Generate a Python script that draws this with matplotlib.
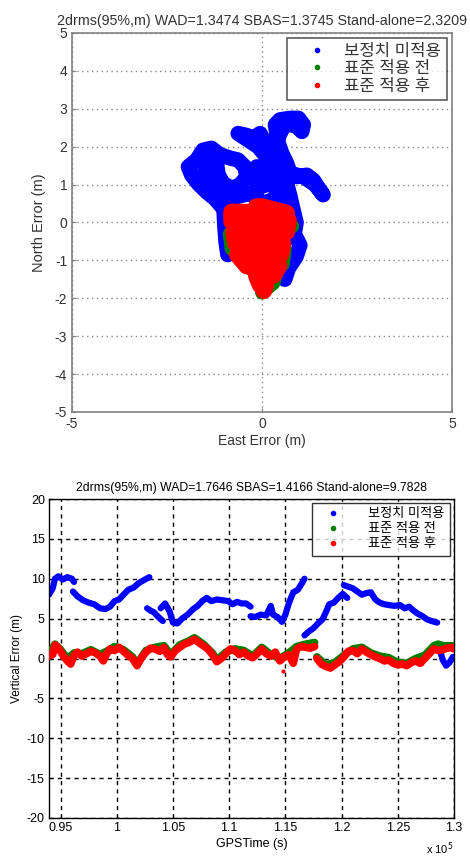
import numpy as np
import matplotlib
matplotlib.use("Agg")
import matplotlib.pyplot as plt
from matplotlib.lines import Line2D

plt.rcParams['font.family'] = ['Liberation Sans', 'Noto Sans CJK KR', 'DejaVu Sans']
plt.rcParams['axes.unicode_minus'] = False

# ---------------- data ----------------
series_names = ['보정치 미적용', '표준 적용 전', '표준 적용 후']
series_colors = ['#0000FF', '#008000', '#FF0000']

title_top = '2drms(95%,m) WAD=1.3474 SBAS=1.3745 Stand-alone=2.3209'
title_bottom = '2drms(95%,m) WAD=1.7646 SBAS=1.4166 Stand-alone=9.7828'

# horizontal scatter (east, north) in metres
blue_east = [0.6, 0.7, 0.9, 1.0, 0.85, 0.9, 0.82, 0.74, 0.65, 0.74, 0.91, 1.18, 1.35, 1.49, 1.61,
             1.4, 1.1, 0.74, 0.65, 0.52, 0.43, 0.39, 0.35, 0.47, 0.74, 0.96, 1.09, 1.05, 0.9, 0.6,
             0.45, 0.3, 0.17, 0.08, -0.05, -0.23, -0.41, -0.63, -0.4, -0.1, 0.26, 0.45, 0.5, 0.12,
             -0.14, -0.23, -0.05, 0.21, 0.39, 0.5, 0.26, 0.03, -0.32, -0.67, -0.98, -1.06, -1.24,
             -1.46, -1.68, -1.85, -1.94, -1.72, -1.55, -1.33, -1.11, -0.84, -0.63, -0.45, -0.4,
             -0.58, -0.8, -1.02, -1.15, -1.19, -1.42, -1.5, -1.3, -1.1, -1.0, -0.98, -0.95, -0.9]
blue_north = [-1.5, -1.2, -0.9, -0.6, -0.3, 0.0, 0.33, 0.68, 1.03, 1.3, 1.21, 1.25, 1.12, 0.9, 0.73,
              1.0, 1.2, 1.3, 1.56, 1.83, 2.09, 2.35, 2.58, 2.71, 2.75, 2.75, 2.58, 2.4, 2.55, 2.6,
              2.3, 2.0, 1.83, 2.09, 2.35, 2.22, 2.3, 2.35, 2.2, 2.0, 1.56, 1.4, 1.1, 1.35,
              1.47, 1.21, 0.94, 1.03, 0.86, 0.6, 0.59, 0.51, 0.77, 0.68, 0.59, 0.42, 0.63,
              0.81, 1.03, 1.25, 1.47, 1.65, 1.91, 1.96, 1.79, 1.7, 1.65, 1.47, 1.21,
              0.99, 0.9, 1.03, 1.25, 1.52, 1.6, 1.3, 1.0, 0.7, 0.3, -0.1, -0.5, -0.85]

green_east = [-0.2, 0.1, 0.6, 0.8, 0.4, -0.3, -0.85, -0.8, -0.1, 0.6, 0.55, 0.0, -0.6, -0.2, 0.4, 0.3, 0.0]
green_north = [0.35, 0.3, 0.15, -0.1, -0.3, -0.2, -0.3, -0.7, -0.6, -0.7, -1.1, -1.0, -0.95, -1.3, -1.25, -1.6, -1.85]

red_east = [-0.15, 0.0, 0.65, -0.8, -0.8, 0.7, 0.65, -0.75, -0.7, 0.55, 0.5, -0.65, -0.4, 0.45,
            0.3, -0.15, -0.05, 0.1, 0.05]
red_north = [0.42, 0.42, 0.25, 0.28, 0.02, 0.05, -0.25, -0.25, -0.55, -0.55, -0.85, -0.85, -1.15,
             -1.15, -1.4, -1.4, -1.65, -1.65, -1.8]

# vertical error time series (GPS time in s, error in m); nan = gap
nan = np.nan
blue_t = [93970, 94300, 94500, 94800, 95200, 95600, 96000, 96200, nan,
          96100, 96500, 97000, 97500, 98000, 98500, 99000, 99400, 99800, 100200, 100600, 101000,
          101500, 102000, 102500, 102900, nan,
          102700, 103000, 103300, 103700, 104100, nan,
          103900, 104300, 104700, 105000, 105400, 105800, 106300, 106800, 107200, 107600, 108000,
          108400, 108900, 109400, 109900, 110300, 110700, 111100, 111500, 111900, nan,
          111900, 112300, 112800, 113300, 113700, 113900, 114300, 114700, 115000, 115300, 115700,
          116100, 116500, 116700, nan,
          116700, 117100, 117500, 117900, 118300, 118600, 118900, 119300, 119700, 120100, 120500, nan,
          120200, 120600, 121000, 121400, 121800, 122200, 122600, 123000, 123400, 123800, 124200,
          124700, 125200, 125600, 126000, 126400, 126800, 127200, 127600, 128000, 128500, nan,
          128800, 129000, 129300, 129600, 129900]
blue_v = [8.0, 8.8, 10.0, 10.3, 9.9, 10.2, 10.0, 9.6, nan,
          8.4, 7.8, 7.3, 7.0, 6.8, 6.3, 6.2, 6.5, 7.2, 7.4, 8.0, 8.6,
          8.9, 9.5, 9.9, 10.2, nan,
          6.3, 6.0, 5.8, 5.2, 4.7, nan,
          6.3, 6.9, 5.9, 4.5, 4.4, 5.0, 5.5, 6.2, 6.6, 7.2, 7.6,
          7.2, 7.4, 7.3, 7.2, 6.8, 7.1, 6.9, 6.9, 6.5, nan,
          5.3, 5.2, 5.5, 5.4, 6.6, 5.5, 5.2, 4.6, 5.5, 6.9, 8.3,
          8.6, 9.5, 10.0, nan,
          2.9, 3.4, 3.8, 4.4, 4.9, 5.8, 6.8, 7.0, 7.6, 8.1, 7.6, nan,
          9.2, 9.0, 8.8, 8.4, 8.0, 8.2, 8.3, 7.4, 7.0, 6.8, 6.7,
          6.6, 6.7, 6.3, 6.5, 6.0, 5.6, 5.3, 4.9, 4.7, 4.5, nan,
          0.8, -0.2, -0.9, -0.5, 0.2]

red_t = [93970, 94300, 94500, 94700, 95000, 95300, 95600, 95900, 96200, 96500, 96900, 97300, 97700,
         98100, 98500, 98800, 99100, 99400, 99800, 100200, 100600, 101000, 101400, 101800, 102200,
         102600, 103000, 103400, 103800, 104200, 104500, 104800, 105200, 105600, 106000, 106400,
         106900, 107300, 107700, 108100, 108500, 108900, 109300, 109700, 110100, 110500, 110900,
         111300, 111700, 112100, 112500, 112900, 113300, 113700, 114100, 114500, 114900, 115300,
         115700, 116000, 116400, 116800, 117200, 117600, nan,
         117800, 118200, 118600, 119000, 119400, 119800, 120200, 120600, 121000, 121400, 121800,
         122200, 122600, 123000, 123400, 123800, 124200, 124600, 125000, 125400, 125800, 126200,
         126600, 127000, 127400, 127800, 128200, 128600, 129000, 129400, 129800, 130000]
red_v = [0.3, 0.5, 1.7, 1.5, 0.9, 0.2, -0.3, -0.7, 0.4, 0.8, 0.3, 0.6, 0.9,
         0.7, 0.3, -0.3, 0.6, 1.2, 1.0, 1.4, 0.9, 0.4, 0.0, -0.9, 0.1,
         0.8, 1.3, 1.2, 0.9, 1.4, 0.5, 0.2, 1.0, 1.4, 1.8, 2.0,
         2.4, 2.0, 1.6, 1.2, 0.5, -0.4, 0.0, 0.6, 1.2, 1.0, 0.5,
         0.8, 0.3, 0.1, 0.6, 1.2, 0.6, 0.3, 0.8, -0.3, 0.2, 0.5,
         -0.6, 1.2, 1.5, 1.4, 1.3, 1.5, nan,
         0.0, -0.7, -1.0, -1.2, -0.8, -0.4, 0.2, 0.9, 1.0, 0.6, 1.2,
         0.8, 0.5, 0.2, 0.0, -0.3, -0.2, -0.6, -0.8, -0.7, -0.9, -0.5,
         -0.3, -0.6, 0.0, 0.6, 1.2, 1.0, 1.1, 1.3, 1.4, 1.2]
red_outlier_t = [114800]
red_outlier_v = [-1.6]

green_t = [93970, 94500, 95000, 95600, 96200, 96900, 97700, 98500, 99100, 99800, 100600, 101400,
           101800, 102600, 103400, 104200, 104800, 105600, 106400, 106900, 107700, 108500, 108900,
           109700, 110500, 111300, 112100, 112900, 113700, 114500, 115300, 116000, 116800, 117600, nan,
           117800, 118600, 119400, 120200, 121000, 121800, 122600, 123400, 124200, 125000, 125800,
           126600, 127400, 128200, 128600, 129000, 129800, 130000]
green_v = [0.5, 1.8, 1.1, 0.0, 0.7, 0.6, 1.1, 0.5, 0.9, 1.5, 1.1, 0.2,
           -0.7, 1.0, 1.4, 1.6, 0.5, 1.7, 2.2, 2.6, 1.8, 0.7, -0.2,
           0.8, 1.2, 1.0, 0.3, 1.4, 0.5, 0.0, 0.7, 1.5, 1.8, 2.0, nan,
           0.2, -0.8, -0.5, 0.4, 1.2, 1.4, 0.7, 0.3, 0.1, -0.5, -0.6,
           0.0, 0.4, 1.6, 1.8, 1.6, 1.6, 1.5]

top_xticks = [-5, 0, 5]
top_yticks = [-5, -4, -3, -2, -1, 0, 1, 2, 3, 4, 5]
bot_xticks = [95000, 100000, 105000, 110000, 115000, 120000, 125000, 130000]
bot_xticklabels = ['0.95', '1', '1.05', '1.1', '1.15', '1.2', '1.25', '1.3']
bot_yticks = [-20, -15, -10, -5, 0, 5, 10, 15, 20]

# ---------------- figure ----------------
W, H = 470, 857
fig = plt.figure(figsize=(W / 100, H / 100), dpi=100)

def px_axes(l, t, r, b):
    return fig.add_axes([l / W, 1 - b / H, (r - l) / W, (b - t) / H])

style = dict(solid_capstyle='round', solid_joinstyle='round')

# ---- top: horizontal error ----
ax1 = px_axes(72, 33, 452, 412)
ax1.plot(blue_east, blue_north, '-', color=series_colors[0], lw=11, **style, zorder=2)
ax1.plot(green_east, green_north, '-', color=series_colors[1], lw=10, **style, zorder=3)
ax1.plot(red_east, red_north, '-', color=series_colors[2], lw=12, **style, zorder=4)
ax1.set_xlim(-5, 5)
ax1.set_ylim(-5, 5)
ax1.set_xticks(top_xticks)
ax1.set_yticks(top_yticks)
ax1.grid(True, linestyle=(0, (1, 2.5)), color='#888888', lw=1)
for s in ax1.spines.values():
    s.set_color('#808080')
    s.set_linewidth(1.2)
ax1.tick_params(direction='in', length=3, colors='#808080', labelcolor='#333333', labelsize=10)
ax1.set_title(title_top, fontsize=10.3, color='#333333', pad=6)
ax1.set_xlabel('East Error (m)', fontsize=10, color='#333333', labelpad=2)
ax1.set_ylabel('North Error (m)', fontsize=10.5, color='#333333', labelpad=6)
handles = [Line2D([], [], ls='none', marker='.', markersize=6, color=c) for c in series_colors]
leg1 = ax1.legend(handles, series_names, loc='upper right', fontsize=12, frameon=True,
                  fancybox=False, edgecolor='#333333', borderpad=0.35, handlelength=2.9,
                  handletextpad=0.2, labelspacing=0.15, borderaxespad=0.3)
leg1.get_frame().set_linewidth(1.2)
for t in leg1.get_texts():
    t.set_color('#333333')

# ---- bottom: vertical error ----
ax2 = px_axes(49, 499, 454, 818)
ax2.plot(blue_t, blue_v, '-', color=series_colors[0], lw=4.5, **style, zorder=2)
ax2.plot(green_t, green_v, '-', color=series_colors[1], lw=5.5, **style, zorder=3)
ax2.plot(red_t, red_v, '-', color=series_colors[2], lw=5.5, **style, zorder=4)
ax2.plot(red_outlier_t, red_outlier_v, '.', color=series_colors[2], markersize=4, zorder=4)
ax2.set_xlim(93970, 130000)
ax2.set_ylim(-20, 20)
ax2.set_xticks(bot_xticks)
ax2.set_xticklabels(bot_xticklabels)
ax2.set_yticks(bot_yticks)
ax2.grid(True, linestyle=(0, (3, 3)), color='black', lw=1)
for s in ax2.spines.values():
    s.set_color('black')
    s.set_linewidth(1)
ax2.tick_params(direction='in', length=3, labelsize=9, pad=3)
ax2.set_title(title_bottom, fontsize=8.8, pad=6)
ax2.set_xlabel('GPSTime (s)', fontsize=9, labelpad=3)
ax2.set_ylabel('Vertical Error (m)', fontsize=8.5, labelpad=3)
fig.text(440 / W, 1 - 849 / H, r'x 10$^{5}$', fontsize=8, ha='center', va='center')
leg2 = ax2.legend(handles, series_names, loc='upper right', fontsize=9.5, frameon=True,
                  fancybox=False, edgecolor='black', borderpad=0.4, handlelength=2.5,
                  handletextpad=1.4, labelspacing=0.2, borderaxespad=0.3)
leg2.get_frame().set_linewidth(1)

fig.savefig('out.png', dpi=100)
